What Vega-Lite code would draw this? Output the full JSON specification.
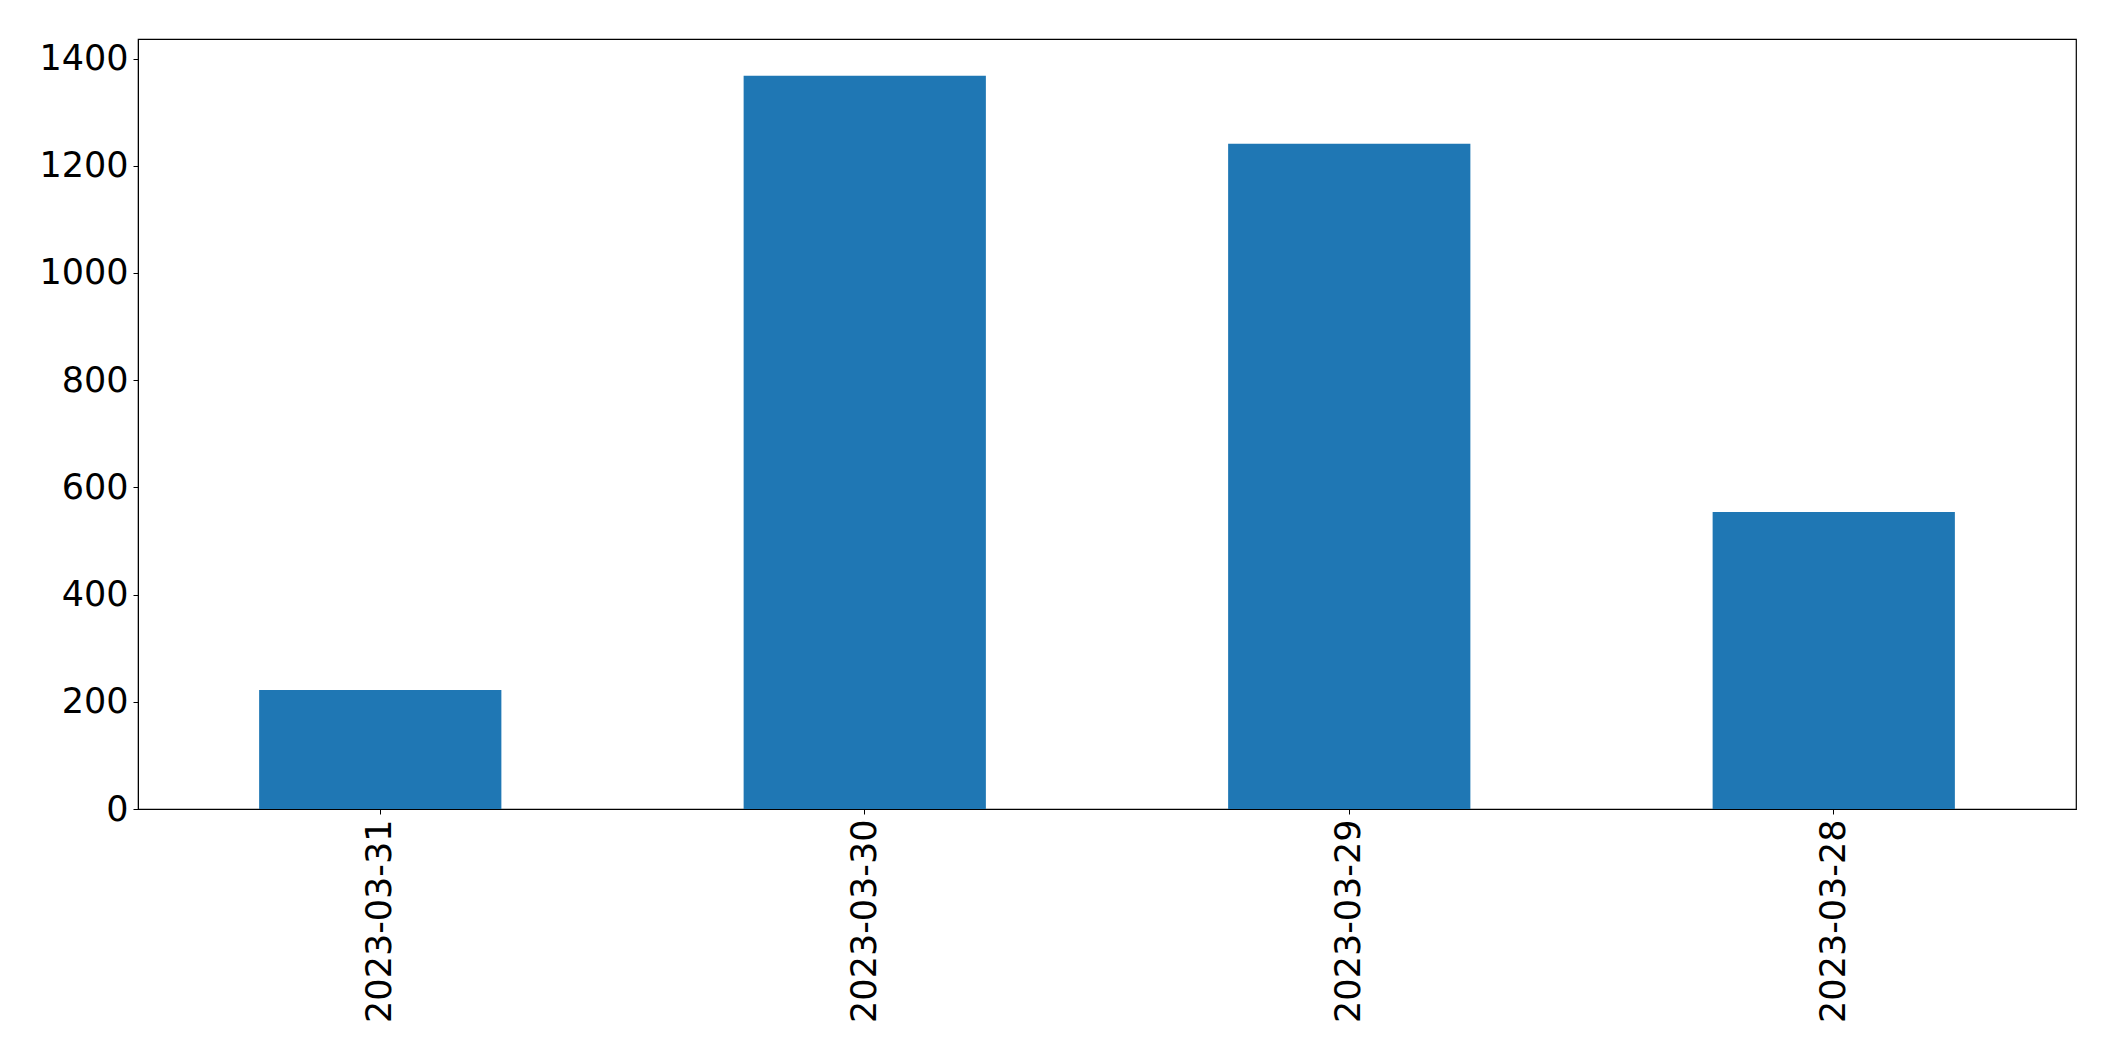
{
  "$schema": "https://vega.github.io/schema/vega-lite/v6.json",
  "autosize": {"type": "none"},
  "padding": {"left": 138, "top": 39, "right": 39, "bottom": 252},
  "width": 1938,
  "height": 770,
  "background": "white",
  "data": {
    "values": [
      {"date": "2023-03-31", "count": 222},
      {"date": "2023-03-30", "count": 1368},
      {"date": "2023-03-29", "count": 1241},
      {"date": "2023-03-28", "count": 554}
    ]
  },
  "mark": {"type": "bar", "color": "#1f77b4"},
  "encoding": {
    "x": {
      "field": "date",
      "type": "nominal",
      "sort": null,
      "scale": {"paddingInner": 0.5, "paddingOuter": 0.25},
      "axis": {
        "title": null,
        "labelAngle": 270,
        "labelLimit": 0,
        "labelFont": "DejaVu Sans",
        "labelFontSize": 35,
        "labelColor": "black",
        "tickColor": "black",
        "tickSize": 5,
        "tickWidth": 1,
        "labelPadding": 5,
        "domainColor": "black",
        "domainWidth": 1
      }
    },
    "y": {
      "field": "count",
      "type": "quantitative",
      "scale": {"domain": [0, 1436.4], "nice": false, "zero": true},
      "axis": {
        "title": null,
        "format": "d",
        "values": [0, 200, 400, 600, 800, 1000, 1200, 1400],
        "grid": false,
        "labelFont": "DejaVu Sans",
        "labelFontSize": 35,
        "labelColor": "black",
        "tickColor": "black",
        "tickSize": 5,
        "tickWidth": 1,
        "labelPadding": 5,
        "domainColor": "black",
        "domainWidth": 1
      }
    }
  },
  "config": {
    "view": {"stroke": "black", "strokeWidth": 1.2}
  }
}
